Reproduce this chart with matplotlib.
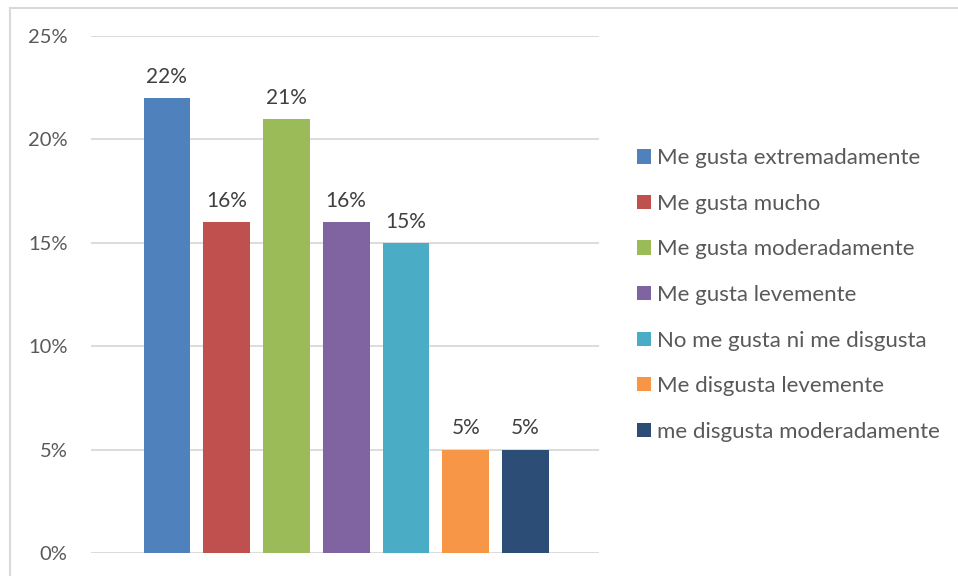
import matplotlib
matplotlib.use("Agg")
import matplotlib.pyplot as plt
from matplotlib.patches import Patch
from matplotlib.lines import Line2D
from matplotlib.ticker import FuncFormatter

categories = [
    "Me gusta extremadamente",
    "Me gusta mucho",
    "Me gusta moderadamente",
    "Me gusta levemente",
    "No me gusta ni me disgusta",
    "Me disgusta levemente",
    "me disgusta moderadamente",
]
values = [22, 16, 21, 16, 15, 5, 5]
colors = ["#4F81BD", "#C0504D", "#9BBB59", "#8064A2", "#4BACC6", "#F79646", "#2C4D75"]
y_ticks = [0, 5, 10, 15, 20, 25]

plt.rcParams["font.family"] = ["Lato", "DejaVu Sans"]

fig = plt.figure(figsize=(9.58, 5.76), dpi=100)
W, H = 958, 576

# plot area in pixel terms
left, right, top, bottom = 91, 599, 36, 553
ax = fig.add_axes([left / W, 1 - bottom / H, (right - left) / W, (bottom - top) / H])

x = list(range(len(values)))
ax.bar(x, values, width=0.78, color=colors, zorder=3)
for xi, v in zip(x, values):
    ax.annotate(f"{v}%", (xi, v), xytext=(0, 8), textcoords="offset points",
                ha="center", va="bottom", fontsize=15, color="#404040")

ax.set_xlim(-1.27, 7.23)
ax.set_ylim(0, 25)
ax.set_yticks(y_ticks)
ax.yaxis.set_major_formatter(FuncFormatter(lambda v, p: f"{v:.0f}%"))
ax.tick_params(axis="y", length=0, pad=17, labelsize=14.5, labelcolor="#595959")
ax.set_xticks([])
ax.grid(axis="y", color="#D9D9D9", linewidth=1.3, zorder=0)
for s in ax.spines.values():
    s.set_visible(False)

handles = [Patch(facecolor=c, edgecolor="none") for c in colors]
fig.legend(handles, categories, loc="center left", bbox_to_anchor=(637 / W, 1 - 295 / H),
           frameon=False, fontsize=16, labelcolor="#595959", handlelength=0.62,
           handleheight=0.62, handletextpad=0.3, labelspacing=1.15,
           borderaxespad=0, borderpad=0)

# chart frame (top and left edges visible)
fig.add_artist(Line2D([9.5 / W, 9.5 / W], [0, 1 - 7.5 / H], transform=fig.transFigure,
                      color="#D9D9D9", linewidth=1.5))
fig.add_artist(Line2D([9.5 / W, 1], [1 - 7.5 / H, 1 - 7.5 / H], transform=fig.transFigure,
                      color="#D9D9D9", linewidth=1.5))

fig.savefig("out.png", dpi=100)
